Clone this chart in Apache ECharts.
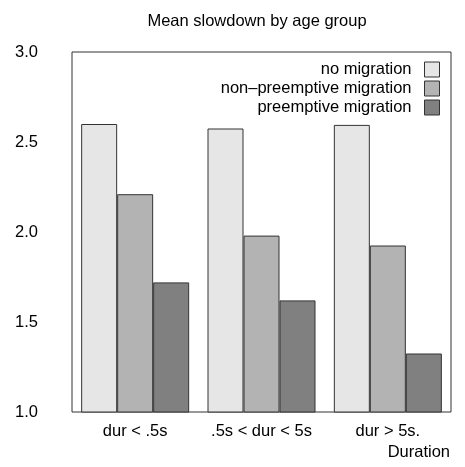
<!DOCTYPE html>
<html>
<head>
<meta charset="utf-8">
<script src="https://cdn.jsdelivr.net/npm/echarts@6/dist/echarts.min.js"></script>
<style>
  html, body { margin: 0; padding: 0; background: #fff; }
  #chart { width: 465px; height: 467px; }
</style>
</head>
<body>
<div id="chart"></div>
<script>
// Duration groups on the x axis
const categories = ['dur < .5s', '.5s < dur < 5s', 'dur > 5s.'];

// Mean slowdown per migration policy
const seriesNames = ['no migration', 'non\u2013preemptive migration', 'preemptive migration'];
const noMigration = [2.60, 2.575, 2.595];
const nonPreemptive = [2.21, 1.98, 1.925];
const preemptive = [1.72, 1.62, 1.325];

// Y axis ticks
const yTicks = [1.0, 1.5, 2.0, 2.5, 3.0];

const fills = ['#e6e6e6', '#b3b3b3', '#808080'];
const values = [noMigration, nonPreemptive, preemptive];
const font = 'Liberation Sans, Arial, Helvetica, sans-serif';
const fs = 16.5;

const chart = echarts.init(document.getElementById('chart'), null, { renderer: 'canvas' });

chart.setOption({
  animation: false,
  backgroundColor: '#ffffff',
  title: {
    text: 'Mean slowdown by age group',
    left: 252,
    top: 8,
    textAlign: 'center',
    textStyle: { fontFamily: font, fontSize: fs, fontWeight: 'normal', color: '#000' }
  },
  legend: {
    orient: 'vertical',
    right: 25,
    top: 61,
    padding: 0,
    align: 'right',
    itemWidth: 15,
    itemHeight: 15,
    itemGap: 2,
    icon: 'rect',
    textStyle: { fontFamily: font, fontSize: fs, lineHeight: 16, color: '#000', padding: [0, 8, 0, 0] },
    itemStyle: { borderColor: '#333', borderWidth: 1 },
    data: seriesNames
  },
  grid: {
    left: 72,
    right: 14,
    top: 52,
    bottom: 55,
    show: true,
    borderColor: '#333',
    borderWidth: 1,
    backgroundColor: 'transparent'
  },
  xAxis: {
    type: 'category',
    data: categories,
    name: 'Duration',
    nameLocation: 'end',
    nameGap: -1,
    nameTextStyle: {
      fontFamily: font, fontSize: fs, color: '#000',
      align: 'right', verticalAlign: 'top', padding: [32, 0, 0, 0]
    },
    axisLine: { show: false },
    axisTick: { show: false },
    axisLabel: { interval: 0, hideOverlap: false, fontFamily: font, fontSize: fs, color: '#000', margin: 11 },
    splitLine: { show: false }
  },
  yAxis: {
    type: 'value',
    min: yTicks[0],
    max: yTicks[yTicks.length - 1],
    interval: 0.5,
    axisLine: { show: false },
    axisTick: { show: false },
    splitLine: { show: false },
    axisLabel: {
      fontFamily: font, fontSize: fs, color: '#000', margin: 34,
      formatter: v => v.toFixed(1)
    }
  },
  series: seriesNames.map((name, i) => ({
    name: name,
    type: 'bar',
    data: values[i],
    barWidth: 36,
    barGap: '0%',
    itemStyle: { color: fills[i], borderColor: '#333', borderWidth: 1 }
  }))
});
</script>
</body>
</html>
